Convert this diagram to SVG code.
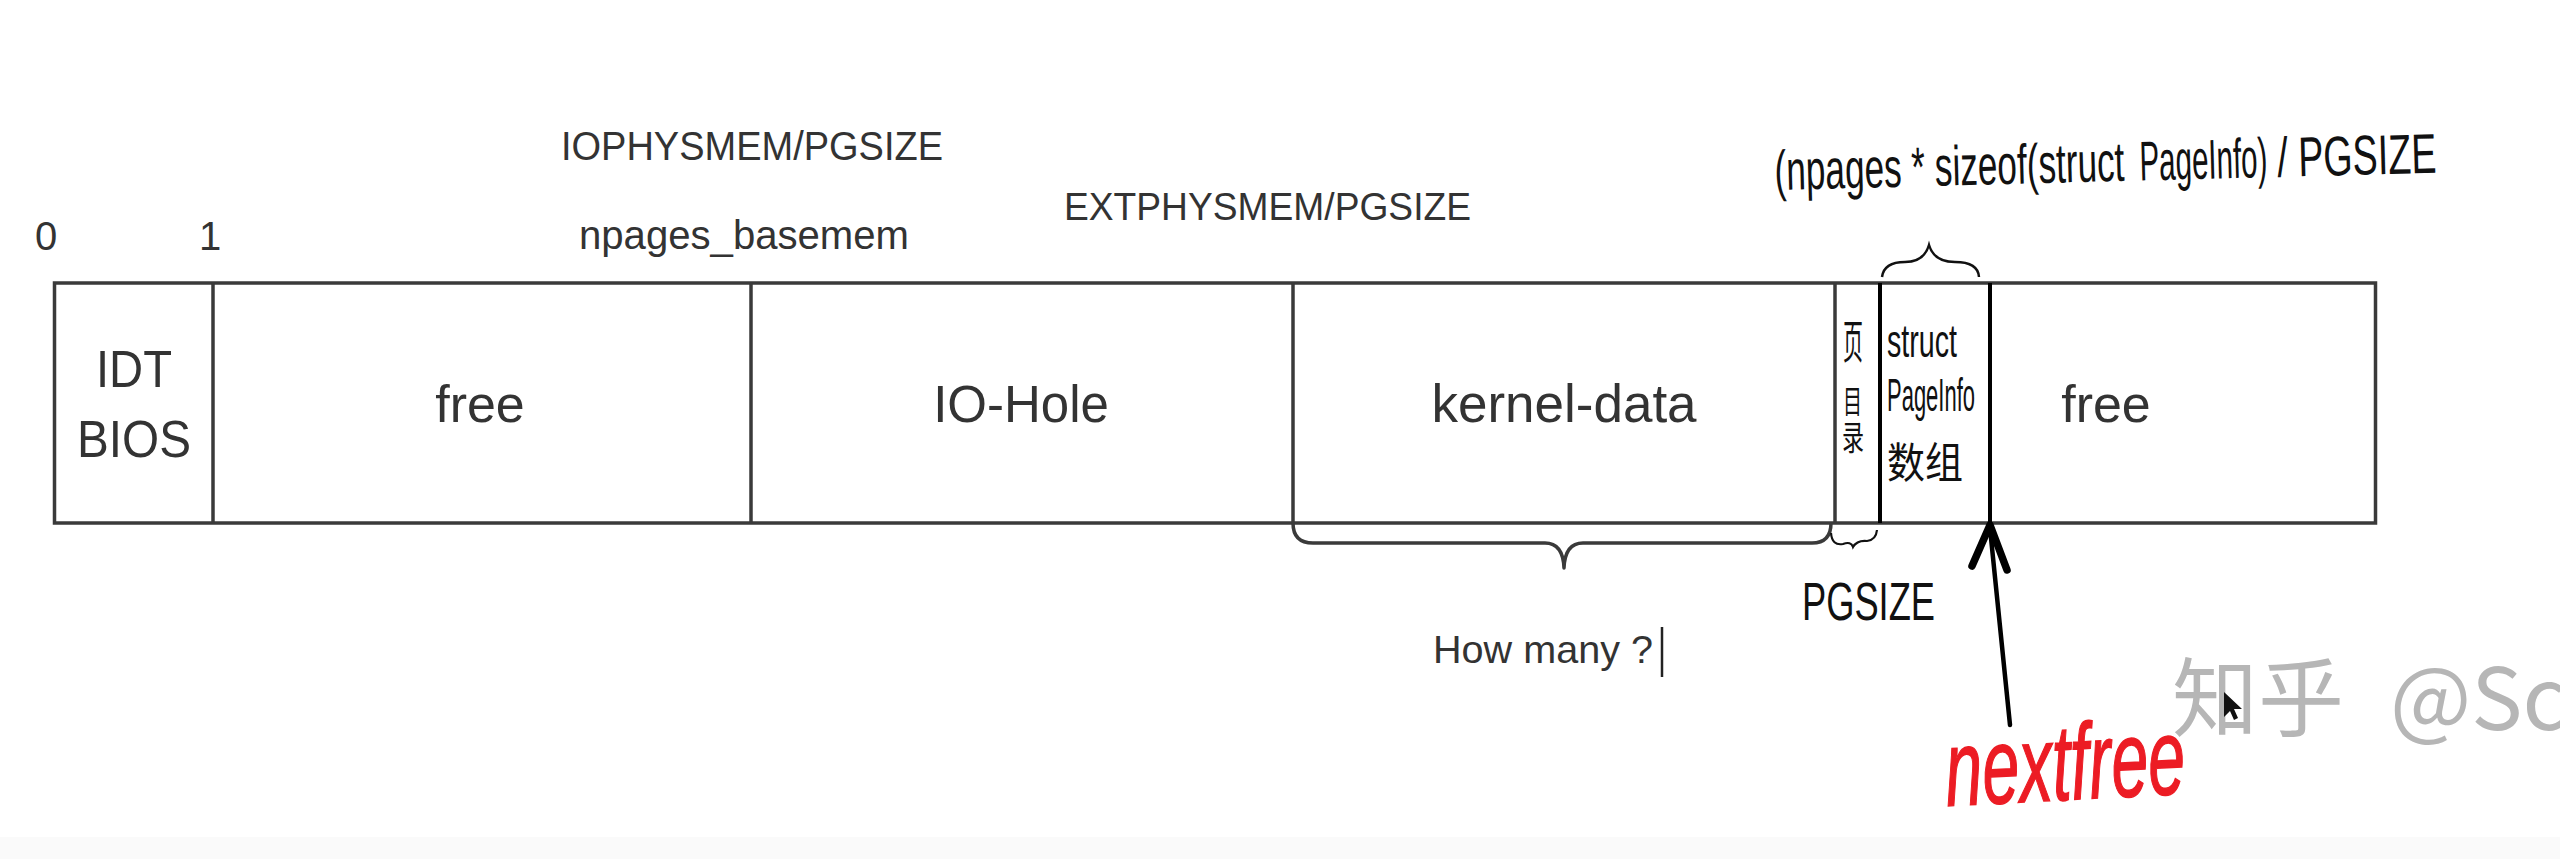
<svg xmlns="http://www.w3.org/2000/svg" width="2560" height="859" viewBox="0 0 2560 859">
<style>
.seg{fill:#fff;stroke:#3a3a3a;stroke-width:3.5}
.div{stroke:#3a3a3a;stroke-width:3.5}
.lbl{font-family:"Liberation Sans",Arial,sans-serif;fill:#333}
.hand{font-family:"Liberation Sans",Arial,sans-serif;fill:#111}
.cjk{font-family:"Liberation Sans","Noto Sans CJK SC",sans-serif;fill:#111}
.brace{fill:none;stroke:#3a3a3a;stroke-width:3.5;stroke-linejoin:round}
</style>
<rect x="0" y="0" width="2560" height="859" fill="#fff"/>
<rect x="0" y="837" width="2560" height="22" fill="#fafafa"/>

<g id="axis-labels">
<text class="lbl" x="35" y="250" font-size="40">0</text>
<text class="lbl" x="210" y="250" font-size="40" text-anchor="middle">1</text>
<text class="lbl" x="561" y="160" font-size="40" textLength="382" lengthAdjust="spacingAndGlyphs">IOPHYSMEM/PGSIZE</text>
<text class="lbl" x="579" y="249" font-size="40" textLength="330" lengthAdjust="spacingAndGlyphs">npages_basemem</text>
<text class="lbl" x="1064" y="220" font-size="39" textLength="407" lengthAdjust="spacingAndGlyphs">EXTPHYSMEM/PGSIZE</text>
</g>

<g id="memory">
<rect class="seg" x="54.5" y="283" width="2321" height="240"/>
</g>

<g id="idt-bios">
<line class="div" x1="213" y1="283" x2="213" y2="523"/>
<text class="lbl" x="134" y="387" font-size="52" text-anchor="middle" textLength="76" lengthAdjust="spacingAndGlyphs">IDT</text>
<text class="lbl" x="134" y="457" font-size="52" text-anchor="middle" textLength="114" lengthAdjust="spacingAndGlyphs">BIOS</text>
</g>

<g id="free-low">
<line class="div" x1="751" y1="283" x2="751" y2="523"/>
<text class="lbl" x="480" y="422" font-size="52" text-anchor="middle">free</text>
</g>

<g id="io-hole">
<line class="div" x1="1293" y1="283" x2="1293" y2="523"/>
<text class="lbl" x="1021" y="422" font-size="51" text-anchor="middle">IO-Hole</text>
</g>

<g id="kernel-data">
<line class="div" x1="1835" y1="283" x2="1835" y2="523"/>
<text class="lbl" x="1564" y="422" font-size="53" text-anchor="middle">kernel-data</text>
</g>

<g id="page-dir">
<line x1="1880" y1="283" x2="1880" y2="523" stroke="#000" stroke-width="4"/>
<text class="cjk" x="1843" y="358" font-size="46" textLength="20" lengthAdjust="spacingAndGlyphs">页</text>
<text class="cjk" x="1843" y="413" font-size="32" textLength="19" lengthAdjust="spacingAndGlyphs">目</text>
<text class="cjk" x="1842" y="450" font-size="34" textLength="22" lengthAdjust="spacingAndGlyphs">录</text>
</g>

<g id="pageinfo-array">
<line x1="1990" y1="283" x2="1990" y2="523" stroke="#000" stroke-width="4"/>
<text class="hand" x="1887" y="357" font-size="46" textLength="70" lengthAdjust="spacingAndGlyphs">struct</text>
<text class="hand" x="1887" y="411" font-size="46" textLength="88" lengthAdjust="spacingAndGlyphs">PageInfo</text>
<text class="cjk" x="1887" y="478" font-size="42" textLength="76" lengthAdjust="spacingAndGlyphs">数组</text>
</g>

<g id="free-high">
<text class="lbl" x="2106" y="422" font-size="52" text-anchor="middle">free</text>
</g>

<g id="annotations">
<path class="brace" d="M1293,523 Q1293,543 1313,543 L1545,543 Q1563,543 1564,568 Q1565,543 1583,543 L1812,543 Q1831,543 1831,523"/>
<text class="lbl" x="1433" y="663" font-size="39.5" textLength="220" lengthAdjust="spacingAndGlyphs" fill="#3a3a3a">How many ?</text>
<line x1="1662" y1="627" x2="1662" y2="677" stroke="#222" stroke-width="2.5"/>
<path d="M1831,533 Q1832,546 1843,544 Q1851,541 1853,547 Q1857,540 1867,541 Q1876,540 1877,530" fill="none" stroke="#111" stroke-width="2.2"/>
<text class="hand" x="1802" y="620" font-size="54" textLength="133" lengthAdjust="spacingAndGlyphs">PGSIZE</text>
<path d="M1882,277 Q1884,262 1905,262 Q1924,262 1929,245 Q1934,262 1955,262 Q1978,262 1979,277" fill="none" stroke="#111" stroke-width="2.5"/>
<g id="formula" transform="rotate(-1.5 1775 190)">
<text class="hand" x="1775" y="190" font-size="56" textLength="350" lengthAdjust="spacingAndGlyphs">(npages * sizeof(struct</text>
<text class="hand" x="2140" y="190" font-size="56" textLength="128" lengthAdjust="spacingAndGlyphs">PageInfo)</text>
<text class="hand" x="2278" y="190" font-size="56" textLength="159" lengthAdjust="spacingAndGlyphs">/ PGSIZE</text>
</g>
</g>

<g id="connectors">
<path d="M1990,528 L2010,725" stroke="#000" stroke-width="4.5" fill="none" stroke-linecap="round"/>
<path d="M1972,566 L1990,525 L2007,570" stroke="#000" stroke-width="7.5" fill="none" stroke-linecap="round" stroke-linejoin="round"/>
</g>

<g id="nextfree">
<text x="1947" y="806" font-family="Liberation Sans, Arial, sans-serif" font-style="italic" font-size="108" textLength="240" lengthAdjust="spacingAndGlyphs" fill="#ec1c24" stroke="#ec1c24" stroke-width="1.5" transform="rotate(-3 1947 806)">nextfree</text>
</g>

<g id="watermark">
<text font-family="Noto Sans CJK SC, sans-serif" font-size="86" fill="#b6b6b6" y="730"><tspan x="2172">知乎</tspan><tspan x="2390">@Sc</tspan></text>
<path d="M2224,692 L2224,717 L2230,711 L2234,720 L2238,718 L2234,709 L2242,709 Z" fill="#111"/>
</g>
</svg>
